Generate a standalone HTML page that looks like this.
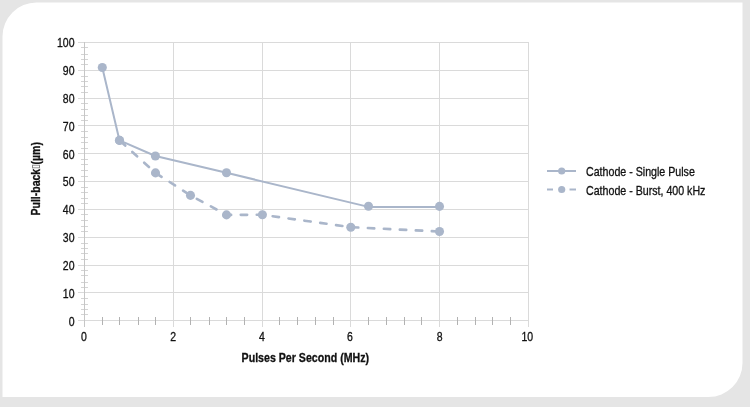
<!DOCTYPE html><html><head><meta charset="utf-8"><style>
html,body{margin:0;padding:0;background:#e5e5e5;width:750px;height:407px;overflow:hidden}
svg{position:absolute;left:0;top:0}
text{font-family:"Liberation Sans",Arial,sans-serif;fill:#111;stroke:#111;stroke-width:0.3px}
.yt{position:absolute;left:0;top:0;font:bold 12px "Liberation Sans",Arial,sans-serif;color:#111;-webkit-text-stroke:0.3px #111;white-space:nowrap;transform-origin:0 0}
.tofu{display:inline-block;width:2px;height:6.3px;border:1px solid #8a8a8a;vertical-align:0;margin:0 0.5px}
</style></head><body>
<svg width="750" height="407" viewBox="0 0 750 407">
<path d="M36.5,2.5 H742.5 V363 A34,34 0 0 1 708.5,397 H2.5 V36.5 A34,34 0 0 1 36.5,2.5 Z" fill="#fff"/>
<line x1="78" y1="42.5" x2="529" y2="42.5" stroke="#dadada" stroke-width="1"/>
<line x1="78" y1="70.5" x2="529" y2="70.5" stroke="#dadada" stroke-width="1"/>
<line x1="78" y1="98.5" x2="529" y2="98.5" stroke="#dadada" stroke-width="1"/>
<line x1="78" y1="125.5" x2="529" y2="125.5" stroke="#dadada" stroke-width="1"/>
<line x1="78" y1="153.5" x2="529" y2="153.5" stroke="#dadada" stroke-width="1"/>
<line x1="78" y1="181.5" x2="529" y2="181.5" stroke="#dadada" stroke-width="1"/>
<line x1="78" y1="209.5" x2="529" y2="209.5" stroke="#dadada" stroke-width="1"/>
<line x1="78" y1="237.5" x2="529" y2="237.5" stroke="#dadada" stroke-width="1"/>
<line x1="78" y1="265.5" x2="529" y2="265.5" stroke="#dadada" stroke-width="1"/>
<line x1="78" y1="292.5" x2="529" y2="292.5" stroke="#dadada" stroke-width="1"/>
<line x1="173.5" y1="42" x2="173.5" y2="327" stroke="#dadada" stroke-width="1"/>
<line x1="262.5" y1="42" x2="262.5" y2="327" stroke="#dadada" stroke-width="1"/>
<line x1="350.5" y1="42" x2="350.5" y2="327" stroke="#dadada" stroke-width="1"/>
<line x1="439.5" y1="42" x2="439.5" y2="327" stroke="#dadada" stroke-width="1"/>
<line x1="528.5" y1="42" x2="528.5" y2="327" stroke="#dadada" stroke-width="1"/>
<line x1="78" y1="320.5" x2="529" y2="320.5" stroke="#dadada" stroke-width="1"/>
<line x1="81" y1="47.5" x2="88" y2="47.5" stroke="#d4d4d4" stroke-width="1"/>
<line x1="81" y1="54.5" x2="88" y2="54.5" stroke="#d4d4d4" stroke-width="1"/>
<line x1="81" y1="59.5" x2="88" y2="59.5" stroke="#d4d4d4" stroke-width="1"/>
<line x1="81" y1="64.5" x2="88" y2="64.5" stroke="#d4d4d4" stroke-width="1"/>
<line x1="81" y1="76.5" x2="88" y2="76.5" stroke="#d4d4d4" stroke-width="1"/>
<line x1="81" y1="81.5" x2="88" y2="81.5" stroke="#d4d4d4" stroke-width="1"/>
<line x1="81" y1="86.5" x2="88" y2="86.5" stroke="#d4d4d4" stroke-width="1"/>
<line x1="81" y1="92.5" x2="88" y2="92.5" stroke="#d4d4d4" stroke-width="1"/>
<line x1="81" y1="103.5" x2="88" y2="103.5" stroke="#d4d4d4" stroke-width="1"/>
<line x1="81" y1="109.5" x2="88" y2="109.5" stroke="#d4d4d4" stroke-width="1"/>
<line x1="81" y1="115.5" x2="88" y2="115.5" stroke="#d4d4d4" stroke-width="1"/>
<line x1="81" y1="120.5" x2="88" y2="120.5" stroke="#d4d4d4" stroke-width="1"/>
<line x1="81" y1="131.5" x2="88" y2="131.5" stroke="#d4d4d4" stroke-width="1"/>
<line x1="81" y1="137.5" x2="88" y2="137.5" stroke="#d4d4d4" stroke-width="1"/>
<line x1="81" y1="142.5" x2="88" y2="142.5" stroke="#d4d4d4" stroke-width="1"/>
<line x1="81" y1="148.5" x2="88" y2="148.5" stroke="#d4d4d4" stroke-width="1"/>
<line x1="81" y1="159.5" x2="88" y2="159.5" stroke="#d4d4d4" stroke-width="1"/>
<line x1="81" y1="164.5" x2="88" y2="164.5" stroke="#d4d4d4" stroke-width="1"/>
<line x1="81" y1="170.5" x2="88" y2="170.5" stroke="#d4d4d4" stroke-width="1"/>
<line x1="81" y1="176.5" x2="88" y2="176.5" stroke="#d4d4d4" stroke-width="1"/>
<line x1="81" y1="187.5" x2="88" y2="187.5" stroke="#d4d4d4" stroke-width="1"/>
<line x1="81" y1="192.5" x2="88" y2="192.5" stroke="#d4d4d4" stroke-width="1"/>
<line x1="81" y1="198.5" x2="88" y2="198.5" stroke="#d4d4d4" stroke-width="1"/>
<line x1="81" y1="203.5" x2="88" y2="203.5" stroke="#d4d4d4" stroke-width="1"/>
<line x1="81" y1="214.5" x2="88" y2="214.5" stroke="#d4d4d4" stroke-width="1"/>
<line x1="81" y1="220.5" x2="88" y2="220.5" stroke="#d4d4d4" stroke-width="1"/>
<line x1="81" y1="226.5" x2="88" y2="226.5" stroke="#d4d4d4" stroke-width="1"/>
<line x1="81" y1="231.5" x2="88" y2="231.5" stroke="#d4d4d4" stroke-width="1"/>
<line x1="81" y1="243.5" x2="88" y2="243.5" stroke="#d4d4d4" stroke-width="1"/>
<line x1="81" y1="248.5" x2="88" y2="248.5" stroke="#d4d4d4" stroke-width="1"/>
<line x1="81" y1="253.5" x2="88" y2="253.5" stroke="#d4d4d4" stroke-width="1"/>
<line x1="81" y1="259.5" x2="88" y2="259.5" stroke="#d4d4d4" stroke-width="1"/>
<line x1="81" y1="270.5" x2="88" y2="270.5" stroke="#d4d4d4" stroke-width="1"/>
<line x1="81" y1="275.5" x2="88" y2="275.5" stroke="#d4d4d4" stroke-width="1"/>
<line x1="81" y1="282.5" x2="88" y2="282.5" stroke="#d4d4d4" stroke-width="1"/>
<line x1="81" y1="287.5" x2="88" y2="287.5" stroke="#d4d4d4" stroke-width="1"/>
<line x1="81" y1="298.5" x2="88" y2="298.5" stroke="#d4d4d4" stroke-width="1"/>
<line x1="81" y1="304.5" x2="88" y2="304.5" stroke="#d4d4d4" stroke-width="1"/>
<line x1="81" y1="309.5" x2="88" y2="309.5" stroke="#d4d4d4" stroke-width="1"/>
<line x1="81" y1="314.5" x2="88" y2="314.5" stroke="#d4d4d4" stroke-width="1"/>
<line x1="102.5" y1="317" x2="102.5" y2="325" stroke="#b2b2b2" stroke-width="1"/>
<line x1="119.5" y1="317" x2="119.5" y2="325" stroke="#b2b2b2" stroke-width="1"/>
<line x1="138.5" y1="317" x2="138.5" y2="325" stroke="#b2b2b2" stroke-width="1"/>
<line x1="155.5" y1="317" x2="155.5" y2="325" stroke="#b2b2b2" stroke-width="1"/>
<line x1="190.5" y1="317" x2="190.5" y2="325" stroke="#b2b2b2" stroke-width="1"/>
<line x1="209.5" y1="317" x2="209.5" y2="325" stroke="#b2b2b2" stroke-width="1"/>
<line x1="226.5" y1="317" x2="226.5" y2="325" stroke="#b2b2b2" stroke-width="1"/>
<line x1="244.5" y1="317" x2="244.5" y2="325" stroke="#b2b2b2" stroke-width="1"/>
<line x1="279.5" y1="317" x2="279.5" y2="325" stroke="#b2b2b2" stroke-width="1"/>
<line x1="297.5" y1="317" x2="297.5" y2="325" stroke="#b2b2b2" stroke-width="1"/>
<line x1="315.5" y1="317" x2="315.5" y2="325" stroke="#b2b2b2" stroke-width="1"/>
<line x1="333.5" y1="317" x2="333.5" y2="325" stroke="#b2b2b2" stroke-width="1"/>
<line x1="368.5" y1="317" x2="368.5" y2="325" stroke="#b2b2b2" stroke-width="1"/>
<line x1="386.5" y1="317" x2="386.5" y2="325" stroke="#b2b2b2" stroke-width="1"/>
<line x1="404.5" y1="317" x2="404.5" y2="325" stroke="#b2b2b2" stroke-width="1"/>
<line x1="421.5" y1="317" x2="421.5" y2="325" stroke="#b2b2b2" stroke-width="1"/>
<line x1="457.5" y1="317" x2="457.5" y2="325" stroke="#b2b2b2" stroke-width="1"/>
<line x1="475.5" y1="317" x2="475.5" y2="325" stroke="#b2b2b2" stroke-width="1"/>
<line x1="492.5" y1="317" x2="492.5" y2="325" stroke="#b2b2b2" stroke-width="1"/>
<line x1="510.5" y1="317" x2="510.5" y2="325" stroke="#b2b2b2" stroke-width="1"/>
<line x1="84.5" y1="42" x2="84.5" y2="327" stroke="#c6c6c6" stroke-width="1"/>
<g font-size="12">
<text transform="translate(74.5,325.90) scale(0.875,1)" text-anchor="end">0</text>
<text transform="translate(74.5,298.00) scale(0.875,1)" text-anchor="end">10</text>
<text transform="translate(74.5,270.10) scale(0.875,1)" text-anchor="end">20</text>
<text transform="translate(74.5,242.20) scale(0.875,1)" text-anchor="end">30</text>
<text transform="translate(74.5,214.30) scale(0.875,1)" text-anchor="end">40</text>
<text transform="translate(74.5,186.40) scale(0.875,1)" text-anchor="end">50</text>
<text transform="translate(74.5,158.50) scale(0.875,1)" text-anchor="end">60</text>
<text transform="translate(74.5,130.60) scale(0.875,1)" text-anchor="end">70</text>
<text transform="translate(74.5,102.70) scale(0.875,1)" text-anchor="end">80</text>
<text transform="translate(74.5,74.80) scale(0.875,1)" text-anchor="end">90</text>
<text transform="translate(74.5,46.90) scale(0.875,1)" text-anchor="end">100</text>
<text transform="translate(84.0,341) scale(0.875,1)" text-anchor="middle">0</text>
<text transform="translate(173.1,341) scale(0.875,1)" text-anchor="middle">2</text>
<text transform="translate(262,341) scale(0.875,1)" text-anchor="middle">4</text>
<text transform="translate(350,341) scale(0.875,1)" text-anchor="middle">6</text>
<text transform="translate(439.7,341) scale(0.875,1)" text-anchor="middle">8</text>
<text transform="translate(527.3,341) scale(0.875,1)" text-anchor="middle">10</text>
</g>
<text transform="translate(305.3,362) scale(0.885,1)" text-anchor="middle" font-size="12" font-weight="bold">Pulses Per Second (MHz)</text>
<polyline points="119.50,140.40 155.50,172.90 190.50,195.40 226.50,214.90 262.40,214.80 350.80,227.20 439.50,231.50" fill="none" stroke="#aab6ca" stroke-width="2.6" stroke-dasharray="6.4 9.6" stroke-dashoffset="-1.3" stroke-linecap="round"/>
<polyline points="102.30,67.50 119.50,140.40 155.40,156.00 226.50,172.80 368.50,206.90 439.50,206.90" fill="none" stroke="#aab6ca" stroke-width="2" stroke-linejoin="round"/>
<circle cx="102.30" cy="67.50" r="4.55" fill="#aab6ca"/>
<circle cx="119.50" cy="140.40" r="4.55" fill="#aab6ca"/>
<circle cx="155.40" cy="156.00" r="4.55" fill="#aab6ca"/>
<circle cx="226.50" cy="172.80" r="4.55" fill="#aab6ca"/>
<circle cx="368.50" cy="206.30" r="4.55" fill="#aab6ca"/>
<circle cx="439.50" cy="206.40" r="4.55" fill="#aab6ca"/>
<circle cx="119.50" cy="140.40" r="4.55" fill="#aab6ca"/>
<circle cx="155.50" cy="172.90" r="4.55" fill="#aab6ca"/>
<circle cx="190.50" cy="195.40" r="4.55" fill="#aab6ca"/>
<circle cx="226.50" cy="214.90" r="4.55" fill="#aab6ca"/>
<circle cx="262.40" cy="214.80" r="4.55" fill="#aab6ca"/>
<circle cx="350.80" cy="227.20" r="4.55" fill="#aab6ca"/>
<circle cx="439.50" cy="231.50" r="4.55" fill="#aab6ca"/>
<line x1="547" y1="171" x2="576" y2="171" stroke="#aab6ca" stroke-width="2"/>
<circle cx="561.7" cy="171" r="3.6" fill="#aab6ca"/>
<line x1="547" y1="189.5" x2="553" y2="189.5" stroke="#aab6ca" stroke-width="2"/>
<line x1="569.5" y1="189.5" x2="576" y2="189.5" stroke="#aab6ca" stroke-width="2"/>
<circle cx="561.7" cy="189.5" r="3.6" fill="#aab6ca"/>
<g font-size="12">
<text transform="translate(586,175.7) scale(0.888,1)">Cathode - Single Pulse</text>
<text transform="translate(586,194.6) scale(0.888,1)">Cathode - Burst, 400 kHz</text>
</g>
</svg>
<div class="yt" style="transform:translate(40px,215.5px) rotate(-90deg) scale(0.875,1) translate(0,-11px)">Pull-back<span class="tofu"></span>(µm)</div>
</body></html>
